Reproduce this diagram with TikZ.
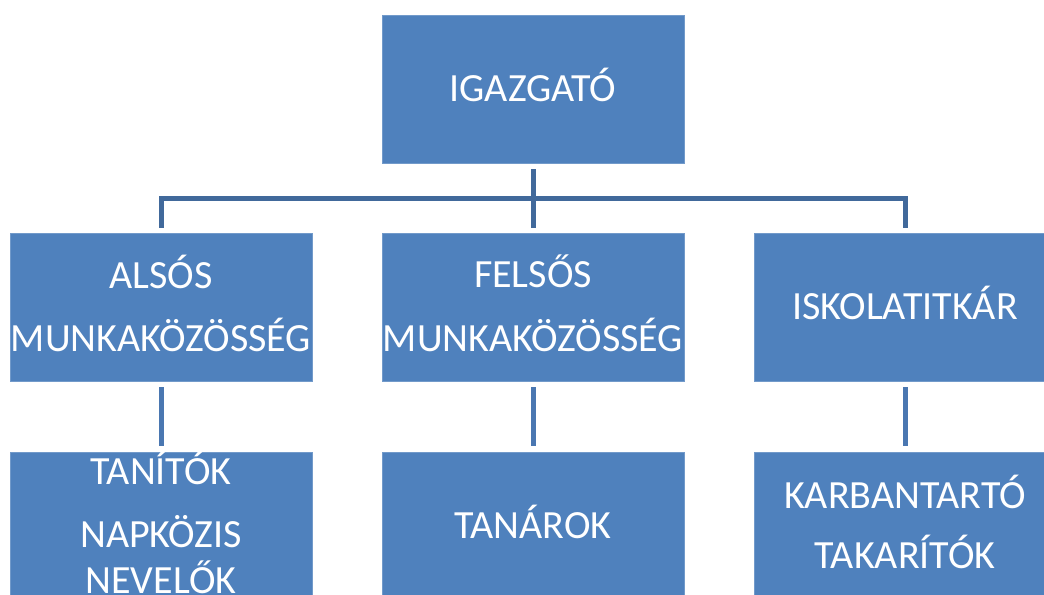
\documentclass[tikz,border=0pt]{standalone}
\usepackage{fontspec}
\setmainfont{Carlito}
\usetikzlibrary{calc}

\definecolor{boxblue}{HTML}{4F81BD}
\definecolor{linedark}{HTML}{41699B}
\definecolor{linelight}{HTML}{4A77B1}

\tikzset{
  unit/.style={fill=boxblue, draw=boxblue!80!white, line width=0.6pt,
    minimum width=226.5pt, minimum height=111pt, inner sep=0pt,
    text=white, align=center, text depth=6pt,
    font=\fontsize{30}{34.5}\selectfont},
  conn/.style={line width=3.75pt, color=linedark},
  sub/.style={line width=3.75pt, color=linelight}
}

\begin{document}
\begin{tikzpicture}[x=0.75pt, y=-0.75pt]
  \useasboundingbox (0, 0) rectangle (1044, 594);
  \node[unit] (igazgato) at (533, 89) {IGAZGATÓ};
  \node[unit] (alsos) at (161, 307) {ALSÓS\\[13pt]MUNKAKÖZÖSSÉG};
  \node[unit] (felsos) at (533, 307) {FELSŐS\\[13pt]MUNKAKÖZÖSSÉG};
  \node[unit] (titkar) at (905, 307) {ISKOLATITKÁR};
  \node[unit, inner ysep=-20pt] (tanitok) at (161, 526) {TANÍTÓK\\[13pt]NAPKÖZIS\\NEVELŐK};
  \node[unit] (tanarok) at (533, 526) {TANÁROK};
  \node[unit] (karban) at (905, 526) {KARBANTARTÓ\\[10.5pt]TAKARÍTÓK};
  \coordinate (bus) at (533, 198);
  \draw[conn, shorten <=4.5pt, shorten >=3.75pt] (igazgato.south) -- (felsos.north);
  \draw[conn, shorten <=3.75pt, shorten >=3.75pt] (alsos.north) |- (bus) -| (titkar.north);
  \draw[sub, shorten <=4.5pt, shorten >=4.5pt] (alsos.south) -- (tanitok.north);
  \draw[sub, shorten <=4.5pt, shorten >=4.5pt] (felsos.south) -- (tanarok.north);
  \draw[sub, shorten <=4.5pt, shorten >=4.5pt] (titkar.south) -- (karban.north);
\end{tikzpicture}
\end{document}
